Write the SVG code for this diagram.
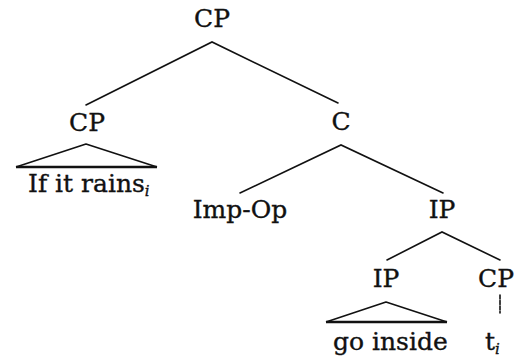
<svg xmlns="http://www.w3.org/2000/svg" width="514" height="360" viewBox="0 0 514 360">
  <style>
    .lbl { font-family: "DejaVu Serif", "Liberation Serif", serif; font-size: 25px; fill: #111; stroke: #111; stroke-width: 0.35; }
    .sub { font-family: "DejaVu Serif", "Liberation Serif", serif; font-size: 15px; font-style: italic; }
    .edge { stroke: #111; stroke-width: 1.6; fill: none; stroke-linecap: round; }
    .tri { stroke: #111; stroke-width: 1.6; fill: none; stroke-linejoin: round; }
    .base { stroke: #111; stroke-width: 2.4; }
  </style>
  <rect width="514" height="360" fill="#fff"/>

  <g id="connectors">
    <!-- CP (root) -->
    <path class="edge" d="M86,105 L212,42 L338,103"/>
    <!-- C -->
    <path class="edge" d="M240,193 L341,145 L443,193"/>
    <!-- IP (upper) -->
    <path class="edge" d="M387,260 L442,232 L500,260"/>
    <!-- CP to trace -->
    <path class="edge" d="M500,295 L500,313" stroke-dasharray="4 1.5"/>
    <!-- roof over the lower CP -->
    <path class="tri" d="M16,167 L86,144 L157,167"/>
    <line class="base" x1="16" y1="167" x2="157" y2="167"/>
    <!-- roof over the lower IP -->
    <path class="tri" d="M326,322 L386,302 L447,322"/>
    <line class="base" x1="326" y1="322" x2="447" y2="322"/>
  </g>

  <g id="cp-root"><text class="lbl" x="212" y="27" text-anchor="middle">CP</text></g>
  <g id="cp-adjunct"><text class="lbl" x="87" y="131" text-anchor="middle">CP</text></g>
  <g id="c-bar"><text class="lbl" x="341" y="130" text-anchor="middle">C</text></g>
  <g id="if-it-rains"><text class="lbl" x="28" y="192">If it rains<tspan class="sub" dy="4">i</tspan></text></g>
  <g id="imp-op"><text class="lbl" x="240" y="218" text-anchor="middle">Imp-Op</text></g>
  <g id="ip-upper"><text class="lbl" x="442" y="218" text-anchor="middle">IP</text></g>
  <g id="ip-lower"><text class="lbl" x="386" y="287" text-anchor="middle">IP</text></g>
  <g id="cp-trace"><text class="lbl" x="478" y="287">CP</text></g>
  <g id="go-inside"><text class="lbl" x="333" y="350">go inside</text></g>
  <g id="trace"><text class="lbl" x="485" y="350">t<tspan class="sub" dy="4">i</tspan></text></g>
</svg>
